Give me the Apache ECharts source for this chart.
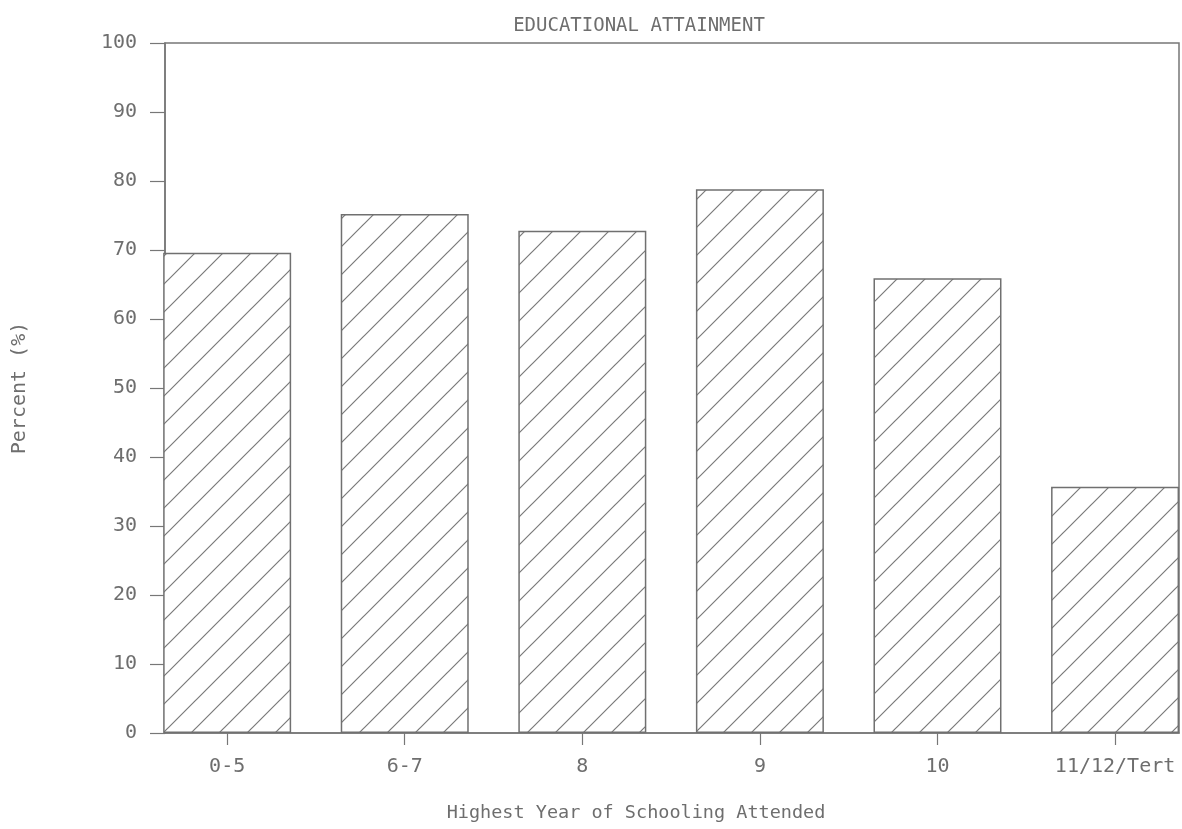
<!DOCTYPE html>
<html>
<head>
<meta charset="utf-8">
<script src="https://cdn.jsdelivr.net/npm/echarts@6/dist/echarts.min.js"></script>
<style>
html,body{margin:0;padding:0;background:#fff;}
#chart{width:1182px;height:829px;}
</style>
</head>
<body>
<div id="chart"></div>
<script>
var categories = ['0-5', '6-7', '8', '9', '10', '11/12/Tert'];
var percentValues = [69.6, 75.2, 72.8, 78.8, 65.9, 35.7];
var yTicks = [0, 10, 20, 30, 40, 50, 60, 70, 80, 90, 100];

var INK = '#6e6e6e';
var FONT = '"DejaVu Sans Mono", monospace';

function hatch() {
  var s = 28;
  var c = document.createElement('canvas');
  c.width = s; c.height = s;
  var g = c.getContext('2d');
  g.fillStyle = '#ffffff';
  g.fillRect(0, 0, s, s);
  g.strokeStyle = '#7a7a7a';
  g.lineWidth = 1.2;
  g.beginPath();
  g.moveTo(-2, s + 2); g.lineTo(s + 2, -2);
  g.moveTo(-2, 2); g.lineTo(2, -2);
  g.moveTo(s - 2, s + 2); g.lineTo(s + 2, s - 2);
  g.stroke();
  return c;
}

var catIndex = categories.map(function (c, i) { return i; });
var barData = percentValues.map(function (v, i) { return [catIndex[i], v]; });

var chart = echarts.init(document.getElementById('chart'), null, {renderer: 'canvas'});
chart.setOption({
  backgroundColor: '#ffffff',
  animation: false,
  title: [
    {text: 'EDUCATIONAL ATTAINMENT', left: 634, top: 12, textAlign: 'center',
     textStyle: {fontFamily: FONT, fontSize: 19, fontWeight: 'normal', color: INK}},
    {text: 'Highest Year of Schooling Attended', left: 631, top: 799, textAlign: 'center',
     textStyle: {fontFamily: FONT, fontSize: 18.5, fontWeight: 'normal', color: INK}}
  ],
  grid: [
    {left: 165, right: 3, top: 43, bottom: 96, show: true, borderColor: '#777', borderWidth: 1.5, backgroundColor: 'transparent'}
  ],
  xAxis: [
    {type: 'value', min: -0.35, max: 5.36,
     axisLine: {show: true, onZero: false, lineStyle: {color: '#777', width: 1.5}},
     splitLine: {show: false},
     axisTick: {show: true, length: 12, customValues: catIndex, lineStyle: {color: '#777', width: 1.2}},
     axisLabel: {margin: 24, fontFamily: FONT, fontSize: 20, color: INK, customValues: catIndex,
       formatter: function (v) { return categories[Math.round(v)] || ''; }}}
  ],
  yAxis: [
    {type: 'value', min: 0, max: 100, interval: 10,
     name: 'Percent (%)', nameLocation: 'middle', nameRotate: 90, nameGap: 135,
     nameTextStyle: {fontFamily: FONT, fontSize: 20, color: INK},
     axisLine: {show: true, onZero: false, lineStyle: {color: '#777', width: 1.5}},
     axisTick: {show: true, length: 15, lineStyle: {color: '#777', width: 1.2}},
     splitLine: {show: false},
     axisLabel: {margin: 28, fontFamily: FONT, fontSize: 20, color: INK,
       formatter: function (v) { return yTicks.indexOf(v) >= 0 ? String(v) : ''; }}}
  ],
  series: [{
    type: 'bar',
    data: barData,
    barWidth: 128,
    itemStyle: {
      color: {image: hatch(), repeat: 'repeat'},
      borderColor: '#707070',
      borderWidth: 1.5
    }
  }]
});
</script>
</body>
</html>
